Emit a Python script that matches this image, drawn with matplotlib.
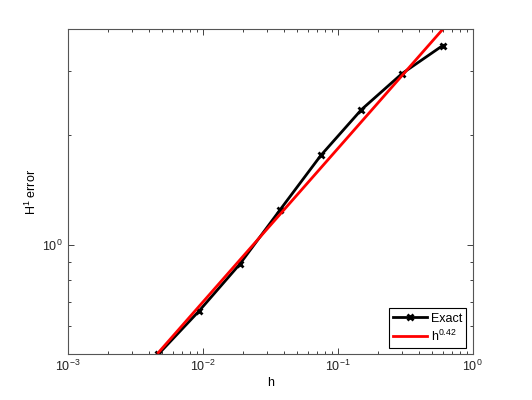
import numpy as np
import matplotlib
matplotlib.use("Agg")
import matplotlib.pyplot as plt
from matplotlib.ticker import NullFormatter

plt.rcParams['font.family'] = ['Liberation Sans', 'DejaVu Sans']
plt.rcParams['mathtext.fontset'] = 'custom'
plt.rcParams['mathtext.rm'] = 'Liberation Sans'
plt.rcParams['mathtext.it'] = 'Liberation Sans'

# mesh sizes and H1 errors
h = [0.6, 0.3, 0.15, 0.075, 0.0375, 0.01875, 0.009375, 0.0046875]
err = [3.52, 2.95, 2.35, 1.76, 1.25, 0.885, 0.659, 0.502]

# reference slope line h^0.42 (end points)
ref_h = [0.0046875, 0.6]
ref_err = [0.507, 3.90]

fig = plt.figure(figsize=(5.32, 4.0), dpi=100)
ax = fig.add_axes([0.1273, 0.1143, 0.7612, 0.8125])

ax.loglog(h, err, color='black', lw=2, marker='x', ms=5, mew=2, label='Exact')
ax.loglog(ref_h, ref_err, color='red', lw=2, label='h$^{0.42}$')

ax.set_xlim(1e-3, 1)
ax.set_ylim(min(err), max(ref_err))
ax.yaxis.set_minor_formatter(NullFormatter())

ax.tick_params(which='both', direction='in', top=True, right=True,
               labelsize=9, colors='#222222')
ax.tick_params(which='major', length=4, width=0.6)
ax.tick_params(which='minor', length=2, width=0.6)
for s in ax.spines.values():
    s.set_color('#555555')
    s.set_linewidth(0.8)

ax.set_xlabel('h', fontsize=9, labelpad=2)
ax.set_ylabel('H$^1$ error', fontsize=9, labelpad=2)

leg = ax.legend(loc='lower right', fontsize=9, fancybox=False,
                framealpha=1, edgecolor='black', handlelength=2.7,
                handletextpad=0.3, borderaxespad=0.5, borderpad=0.35,
                labelspacing=0.3)
leg.get_frame().set_linewidth(0.8)

fig.savefig('out.png', dpi=100)
